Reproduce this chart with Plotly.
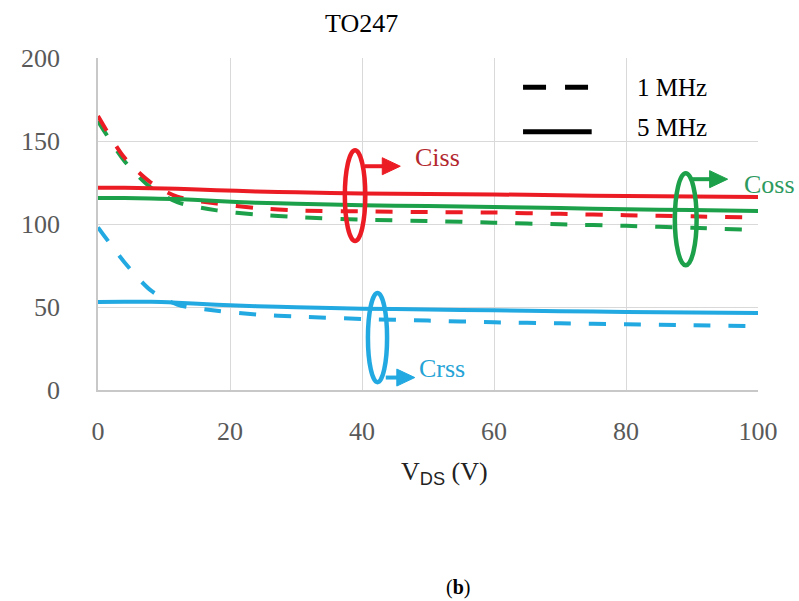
import plotly.graph_objects as go

# Drain-source voltage sweep (V)
v_ds = [0, 4, 8, 12, 18, 24, 30, 40, 50, 60, 70, 80, 90, 100]

# Capacitances (pF) measured at 1 MHz (dashed)
ciss_1mhz = [165, 140, 125, 116.5, 112.3, 109.6, 108.2, 107.6, 107.2, 106.9, 106.1, 105.3, 104.6, 103.9]
coss_1mhz = [162, 138, 122, 113.2, 108.2, 105.7, 104.2, 102.6, 101.8, 100.8, 99.8, 98.9, 97.7, 96.4]
crss_1mhz = [98, 77, 60, 51.5, 47.8, 45.5, 44.3, 42.8, 41.8, 40.8, 40.2, 39.6, 39.0, 38.4]

# Capacitances (pF) measured at 5 MHz (solid)
ciss_5mhz = [121.8, 121.8, 121.6, 121.2, 120.4, 119.6, 119.1, 118.4, 118.0, 117.8, 117.3, 116.9, 116.6, 116.3]
coss_5mhz = [115.7, 115.6, 115.4, 115.0, 113.8, 112.8, 112.2, 111.3, 110.8, 110.3, 109.6, 108.9, 108.4, 107.9]
crss_5mhz = [53.0, 53.1, 53.2, 52.6, 51.3, 50.5, 49.9, 49.0, 48.5, 48.0, 47.5, 47.0, 46.7, 46.4]

x_ticks = [0, 20, 40, 60, 80, 100]
y_ticks = [0, 50, 100, 150, 200]

RED = "#ec1c24"
GREEN = "#1ca14a"
BLUE = "#22a9e1"
SERIF = "Liberation Serif, Times New Roman, serif"

# pixel size of one data unit (plot area 660 x 332 px for 100 V x 200 pF)
UX = 660 / 100
UY = 332 / 200

fig = go.Figure()

dash = "17px,18px"
for ys, col in [(crss_1mhz, BLUE), (coss_1mhz, GREEN), (ciss_1mhz, RED)]:
    fig.add_trace(go.Scatter(x=v_ds, y=ys, mode="lines",
                             line=dict(color=col, width=4, dash=dash, shape="spline", smoothing=0.8),
                             showlegend=False, hoverinfo="skip"))
for ys, col in [(crss_5mhz, BLUE), (coss_5mhz, GREEN), (ciss_5mhz, RED)]:
    fig.add_trace(go.Scatter(x=v_ds, y=ys, mode="lines",
                             line=dict(color=col, width=4, shape="spline", smoothing=0.8),
                             showlegend=False, hoverinfo="skip"))

# Ellipses grouping each pair of curves
shapes = []
for (x0, x1, y0, y1, col) in [(37.4, 40.5, 89.8, 144.5, RED),
                              (87.4, 90.7, 75.1, 130.6, GREEN),
                              (40.9, 43.8, 4.7, 58.4, BLUE)]:
    shapes.append(dict(type="circle", xref="x", yref="y", x0=x0, x1=x1, y0=y0, y1=y1,
                       line=dict(color=col, width=4.5)))


def arrow(x_tail, x_tip, y, col, head_len=18, head_half=8.5):
    """Horizontal arrow: a thick stem plus a filled triangular head."""
    base = x_tip - head_len / UX
    hh = head_half / UY
    return [
        dict(type="line", xref="x", yref="y", x0=x_tail, x1=base + 0.2, y0=y, y1=y,
             line=dict(color=col, width=4)),
        dict(type="path", xref="x", yref="y",
             path=f"M {base},{y - hh} L {x_tip},{y} L {base},{y + hh} Z",
             fillcolor=col, line=dict(color=col, width=1)),
    ]


shapes += arrow(40.4, 45.8, 134.8, RED)
shapes += arrow(90.0, 95.4, 127.0, GREEN)
shapes += arrow(43.6, 48.0, 7.5, BLUE)

# Frequency key
shapes.append(dict(type="line", xref="paper", yref="paper", x0=0.644, x1=0.746, y0=0.912, y1=0.912,
                   line=dict(color="black", width=5, dash="23px,19px")))
shapes.append(dict(type="line", xref="paper", yref="paper", x0=0.644, x1=0.748, y0=0.778, y1=0.778,
                   line=dict(color="black", width=5)))

annotations = []
for (lx, ly, txt, col) in [(47.7, 140.0, "Ciss", "#b3282e"),
                           (97.6, 124.0, "Coss", "#2e9a5e"),
                           (48.4, 13.0, "Crss", "#24a3d6")]:
    annotations.append(dict(x=lx, y=ly, xref="x", yref="y", text=txt, showarrow=False,
                            xanchor="left", yanchor="middle",
                            font=dict(family=SERIF, size=26, color=col)))

annotations += [
    dict(x=0.814, y=0.912, xref="paper", yref="paper", text="1 MHz", showarrow=False,
         xanchor="left", yanchor="middle", font=dict(family=SERIF, size=25, color="black")),
    dict(x=0.814, y=0.792, xref="paper", yref="paper", text="5 MHz", showarrow=False,
         xanchor="left", yanchor="middle", font=dict(family=SERIF, size=25, color="black")),
    dict(x=0.399, y=1.105, xref="paper", yref="paper", text="TO247", showarrow=False,
         xanchor="center", yanchor="middle", font=dict(family=SERIF, size=26, color="black")),
    dict(x=0.525, y=-0.25, xref="paper", yref="paper",
         text="V<sub><span style='font-family:Liberation Sans, Arial, sans-serif'>DS</span></sub> (V)",
         showarrow=False, xanchor="center", yanchor="middle",
         font=dict(family=SERIF, size=26, color="#222222")),
    dict(x=0.546, y=-0.594, xref="paper", yref="paper", text="(<b>b</b>)", showarrow=False,
         xanchor="center", yanchor="middle", font=dict(family=SERIF, size=20, color="black")),
]

fig.update_layout(
    width=799, height=601,
    margin=dict(l=98, r=41, t=58, b=211),
    paper_bgcolor="white", plot_bgcolor="white",
    shapes=shapes, annotations=annotations,
    xaxis=dict(range=[0, 100], tickvals=x_ticks, showgrid=True, gridcolor="#d9d9d9", gridwidth=1,
               zeroline=False, showline=True, linecolor="#c8c8c8", linewidth=1.5, mirror=False,
               ticks="", ticklabelstandoff=17,
               tickfont=dict(family=SERIF, size=26, color="#595959")),
    yaxis=dict(range=[0, 200], tickvals=y_ticks, showgrid=True, gridcolor="#d9d9d9", gridwidth=1,
               zeroline=False, showline=True, linecolor="#c8c8c8", linewidth=1.5, mirror=False,
               ticks="", ticklabelstandoff=31,
               tickfont=dict(family=SERIF, size=26, color="#595959")),
)

fig.write_html("out.html")
